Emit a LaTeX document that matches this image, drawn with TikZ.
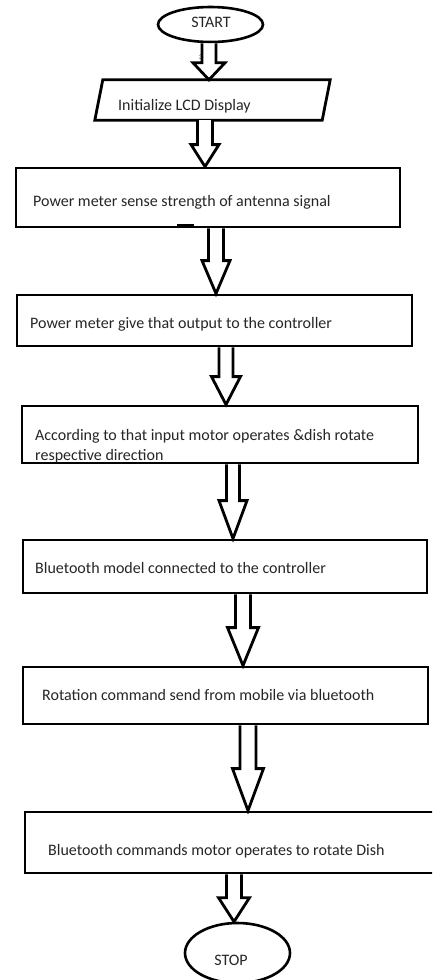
\documentclass[tikz,border=0pt]{standalone}
\usepackage{fontspec}
\setmainfont{Carlito}
\usetikzlibrary{calc,shapes.geometric}
\tikzset{
  box/.style={draw, line width=2.8pt, rectangle, inner sep=0pt},
  term/.style={draw, line width=2.6pt, ellipse, inner sep=0pt},
  lbl/.style={inner sep=0pt, anchor=base west, font=\fontsize{16}{19}\selectfont, text=black!85},
  arr/.style={draw, line width=2.8pt, line join=miter, fill=white},
}
% src, tgt, tip x, shaft half width, head half width, head length
\newcommand\blk[6]{%
  \draw[arr] let \p1=(#1.south), \p2=(#2.north) in
    ({(#3-#4)*1pt},\y1) -- ({(#3-#4)*1pt},{\y2+#6pt}) -- ({(#3-#5)*1pt},{\y2+#6pt})
    -- ({#3*1pt},\y2) -- ({(#3+#5)*1pt},{\y2+#6pt}) -- ({(#3+#4)*1pt},{\y2+#6pt})
    -- ({(#3+#4)*1pt},\y1);}
\begin{document}
\begin{tikzpicture}[x=1pt,y=-1pt]
\useasboundingbox (0,0) rectangle (432,980);
\clip (0,0) rectangle (432,980);
\fill[white] (0,0) rectangle (432,980);
% terminals
\node[term, minimum width=105pt, minimum height=35pt] (start) at (210.5,24.5) {};
\node[lbl, anchor=center] (startt) at (211,22.5) {START};
\node[term, minimum width=105pt, minimum height=60pt] (stop) at (237.5,953) {};
\node[lbl, anchor=center] (stopt) at (231,960) {STOP};
% LCD parallelogram
\node[inner sep=0pt, minimum width=227pt, minimum height=40pt] (lcd) at (212.5,100) {};
\draw[line width=2.8pt, line join=miter] ($(lcd.north west)+(4,0)$) -- ($(lcd.north east)+(4,0)$)
  -- ($(lcd.south east)+(-4,0)$) -- ($(lcd.south west)+(-4,0)$) -- cycle;
\node[lbl] (lcdt) at (118,110) {Initialize LCD Display};
% boxes
\node[box, minimum width=384pt, minimum height=59pt] (b1) at (208,197.5) {};
\node[lbl] (b1t) at (33,206) {Power meter sense strength of antenna signal};
\node[box, minimum width=395pt, minimum height=51pt] (b2) at (214.5,320.5) {};
\node[lbl] (b2t) at (30,328) {Power meter give that output to the controller};
\node[box, minimum width=396pt, minimum height=57pt] (b3) at (220,434.5) {};
\node[lbl] (b3t) at (35,440) {According to that input motor operates \&dish rotate};
\node[lbl] (b3u) at (35,460) {respective direction};
\node[box, minimum width=404pt, minimum height=53pt] (b4) at (225,566.5) {};
\node[lbl] (b4t) at (35,573) {Bluetooth model connected to the controller};
\node[box, minimum width=405pt, minimum height=57pt] (b5) at (225.5,695.5) {};
\node[lbl] (b5t) at (42,700) {Rotation command send from mobile via bluetooth};
\node[box, minimum width=435pt, minimum height=61pt] (b6) at (242.5,842.5) {};
\node[lbl] (b6t) at (48,855) {Bluetooth commands motor operates to rotate Dish};
% block arrows
\blk{start}{lcd}{209}{7}{16}{17}
\blk{lcd}{b1}{205}{7.5}{14}{22}
\blk{b1}{b2}{216}{7.5}{14}{33}
\blk{b2}{b3}{226}{7}{14.5}{28}
\blk{b3}{b4}{233}{6.5}{14}{38}
\blk{b4}{b5}{243}{7.5}{15.5}{38}
\blk{b5}{b6}{248}{8}{15.5}{42}
\blk{b6}{stop}{234}{7.5}{15.5}{24}
% stray marks of the original
\draw[line width=2.5pt] (177,225.5) -- (194,225.5);
\node[inner sep=0pt, font=\fontsize{7}{7}\selectfont] (mark) at (201,57) {3};
\end{tikzpicture}
\end{document}
